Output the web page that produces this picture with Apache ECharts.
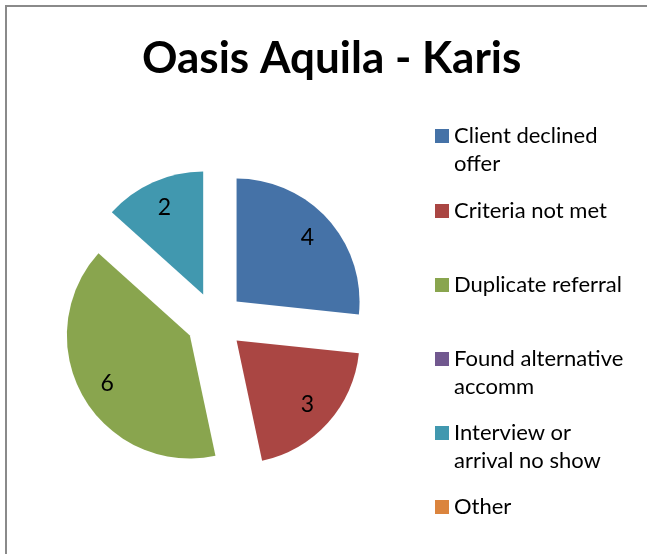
<!DOCTYPE html>
<html>
<head>
<meta charset="utf-8">
<script src="https://cdn.jsdelivr.net/npm/echarts@6/dist/echarts.min.js"></script>
<style>
  html, body { margin: 0; padding: 0; background: #fff; }
  #chart { width: 647px; height: 554px; }
</style>
</head>
<body>
<div id="chart"></div>
<script>
// data
const categories = ['Client declined offer', 'Criteria not met', 'Duplicate referral', 'Found alternative accomm', 'Interview or arrival no show', 'Other']
const legendLabels = ['Client declined\noffer', 'Criteria not met', 'Duplicate referral', 'Found alternative\naccomm', 'Interview or\narrival no show', 'Other']
const values = [4, 3, 6, 0, 2, 0]
const colors = ['#4572A7', '#AA4643', '#89A54E', '#71588F', '#4198AF', '#DB843D']

const FONT = 'Lato'
const center = [215, 321]
const radius = 123
const explode = 29
// y of each legend icon centre
const legendCenters = [136, 211, 285, 359, 433, 507]

const chart = echarts.init(document.getElementById('chart'))

const pieData = categories.map((name, i) => ({
  name,
  value: values[i],
  selected: true,
  itemStyle: { color: colors[i] }
}))

// the legend text is centred on its icon, so a blank leading line
// pushes the first real line onto the icon for wrapped entries
const legends = categories.map((name, i) => {
  const lines = legendLabels[i].split('\n').length
  const text = lines > 1 ? '\n' + legendLabels[i] : legendLabels[i]
  return {
    data: [name],
    left: 435,
    top: legendCenters[i] - 14 - (lines - 1) * 28,
    orient: 'vertical',
    padding: 0,
    icon: 'rect',
    itemWidth: 14,
    itemHeight: 14,
    selectedMode: false,
    formatter: () => text,
    textStyle: {
      fontFamily: FONT,
      fontSize: 22,
      color: '#000',
      lineHeight: 28
    }
  }
})

const option = {
  animation: false,
  backgroundColor: '#fff',
  color: colors,
  title: {
    text: 'Oasis Aquila - Karis',
    left: 142,
    top: 37,
    padding: 0,
    textStyle: { fontFamily: FONT, fontWeight: 'bold', fontSize: 44, color: '#000' }
  },
  legend: legends,
  graphic: [
    { type: 'line', shape: { x1: 6, y1: 6, x2: 647, y2: 6 }, style: { stroke: '#8a8a8a', lineWidth: 2 } },
    { type: 'line', shape: { x1: 6, y1: 5, x2: 6, y2: 554 }, style: { stroke: '#8a8a8a', lineWidth: 2 } }
  ],
  series: [
    {
      type: 'pie',
      center,
      radius,
      startAngle: 90,
      clockwise: true,
      selectedMode: 'multiple',
      selectedOffset: explode,
      label: { show: false },
      labelLine: { show: false },
      emphasis: { disabled: true },
      data: pieData
    },
    {
      // transparent ring used only to place the value labels
      type: 'pie',
      center,
      radius: [62, radius],
      startAngle: 90,
      clockwise: true,
      silent: true,
      selectedMode: 'multiple',
      selectedOffset: explode,
      itemStyle: { color: 'rgba(0,0,0,0)' },
      label: {
        show: true,
        position: 'inside',
        fontFamily: FONT,
        fontSize: 23,
        color: '#000',
        formatter: p => (p.value ? String(p.value) : '')
      },
      labelLine: { show: false },
      emphasis: { disabled: true },
      data: categories.map((name, i) => ({ name, value: values[i], selected: true }))
    }
  ]
}

chart.setOption(option)
</script>
</body>
</html>
